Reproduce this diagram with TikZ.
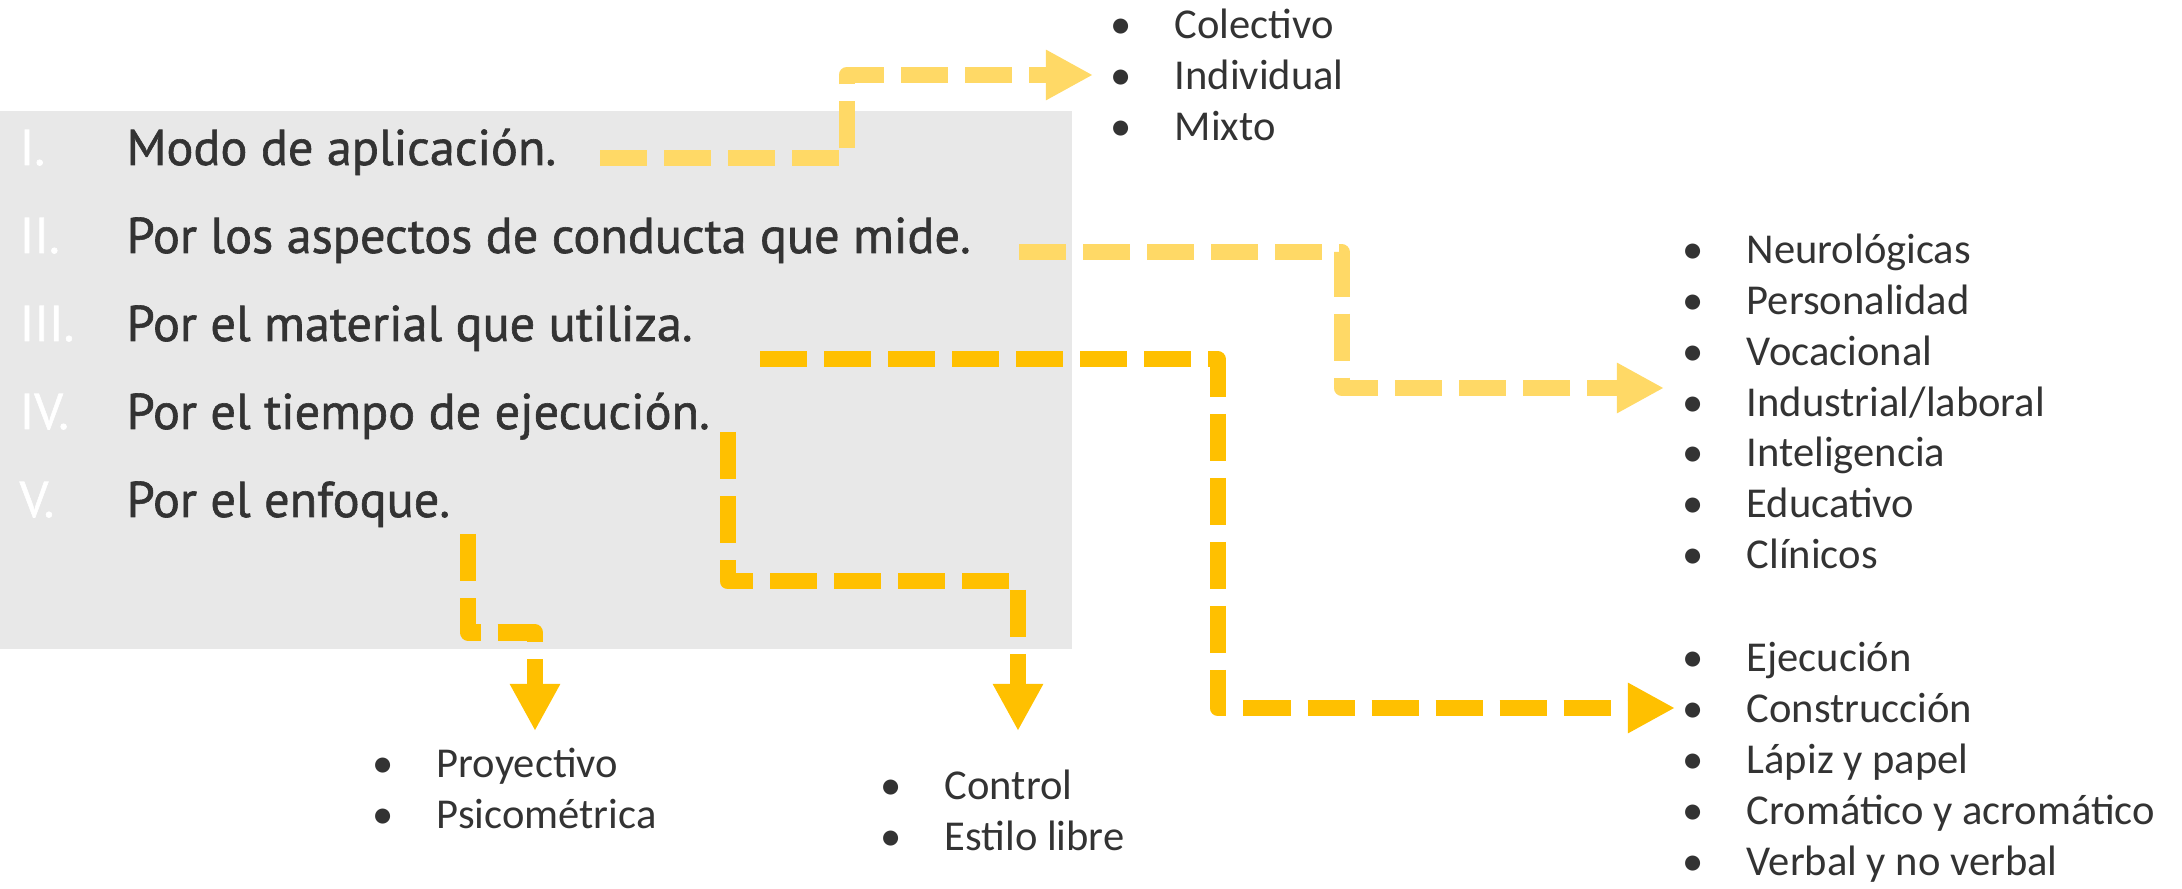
\documentclass[tikz,border=0pt]{standalone}
\usepackage{fontspec}
\setmainfont{Carlito}
\newfontfamily\dinfont{PT Sans}[FakeBold=1.2]
\usepackage{tikz}
\usetikzlibrary{calc,arrows.meta}
\definecolor{amarilloclaro}{HTML}{FFD966}
\definecolor{amarillo}{HTML}{FFC000}
\definecolor{grisfondo}{HTML}{E8E8E8}
\definecolor{textogris}{HTML}{333333}
\def\lista#1{\begin{tabular}[t]{@{}p{6.4mm}@{}l@{}}#1\end{tabular}}
\tikzset{
	tipo/.style={font=\dinfont\fontsize{14.3}{16}\selectfont, text=textogris, inner sep=0pt, anchor=base west},
	numero/.style={font=\dinfont\fontsize{14.3}{16}\selectfont, text=white, inner sep=0pt, anchor=base west},
	items/.style={font=\fontsize{12.1}{14.45}\selectfont, text=textogris, inner sep=0pt, anchor=base west},
	flecha/.style={line width=1.6mm, dash pattern=on 4.7mm off 1.7mm, line join=round, -{Triangle[length=4.7mm,width=4.7mm]}}
}

\begin{document}
\begin{tikzpicture}[x=0.01cm, y=-0.01cm]
		%%%%% START %%%%%
		
		\useasboundingbox (0, 0) rectangle (2182, 889);
		\fill[grisfondo] (0, 111) rectangle (1072, 649);
		
		\foreach \num/\txt [count=\i] in {I./Modo de aplicación., II./Por los aspectos de conducta que mide., III./Por el material que utiliza., IV./Por el tiempo de ejecución., V./Por el enfoque.}{
			\node[numero] (n\i) at (19, {165+88*(\i-1)}) {\num};
			\node[tipo] (c\i) at (126, {165+88*(\i-1)}) {\txt};
		}
		
		\node[items] (modo) at (1110, 38.5) {\lista{\textbullet & Colectivo\\ \textbullet & Individual\\ \textbullet & Mixto}};
		\node[items] (conducta) at (1682, 263.6) {\lista{\textbullet & Neurológicas\\ \textbullet & Personalidad\\ \textbullet & Vocacional\\ \textbullet & Industrial/laboral\\ \textbullet & Inteligencia\\ \textbullet & Educativo\\ \textbullet & Clínicos}};
		\node[items] (material) at (1682, 672) {\lista{\textbullet & Ejecución\\ \textbullet & Construcción\\ \textbullet & Lápiz y papel\\ \textbullet & Cromático y acromático\\ \textbullet & Verbal y no verbal}};
		\node[items] (tiempo) at (880, 800) {\lista{\textbullet & Control\\ \textbullet & Estilo libre}};
		\node[items] (enfoque) at (372, 778) {\lista{\textbullet & Proyectivo\\ \textbullet & Psicométrica}};
		
		\coordinate (s1) at (600, 158);
		\coordinate (t1) at (1093, 75);
		\coordinate (s2) at (1019, 252);
		\coordinate (t2) at (1664, 388);
		\coordinate (s3) at (760, 359);
		\coordinate (t3) at (1675, 708);
		\coordinate (s4) at (727.5, 432);
		\coordinate (t4) at (1018, 731);
		\coordinate (s5) at (468, 534);
		\coordinate (t5) at (535, 731);
		
		\draw[flecha, amarilloclaro] (s1) -| ($(s1)!.5!(t1)$) |- (t1);
		\draw[flecha, amarilloclaro] (s2) -| ($(s2)!.5!(t2)$) |- (t2);
		\draw[flecha, amarillo] (s3) -| ($(s3)!.5!(t3)$) |- (t3);
		\draw[flecha, amarillo] (s4) |- ($(s4)!.5!(t4)$) -| (t4);
		\draw[flecha, amarillo] (s5) |- ($(s5)!.5!(t5)$) -| (t5);
		
		%%%%% END %%%%%
\end{tikzpicture}
\end{document}
